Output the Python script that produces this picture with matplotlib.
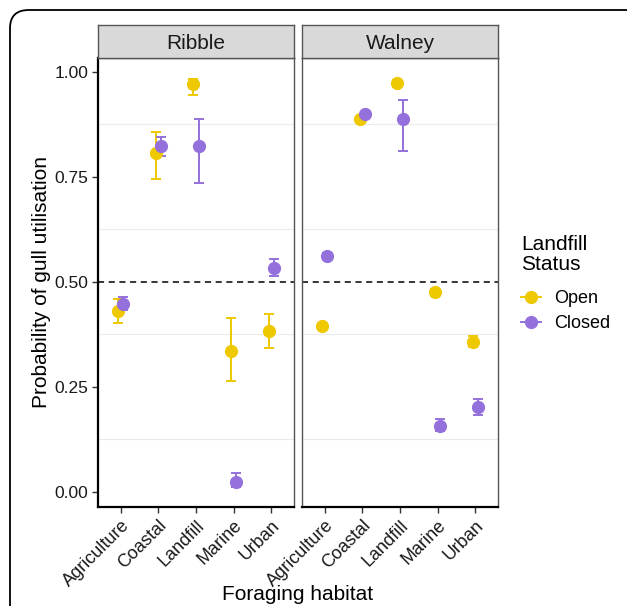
import matplotlib
matplotlib.use("Agg")
import matplotlib.pyplot as plt
from matplotlib.patches import FancyBboxPatch
from matplotlib.lines import Line2D

plt.rcParams['font.family'] = ['Liberation Sans', 'DejaVu Sans']

# data
habitats = ["Agriculture", "Coastal", "Landfill", "Marine", "Urban"]
sites = ["Ribble", "Walney"]

ribble_open = [0.431, 0.806, 0.971, 0.336, 0.382]
ribble_open_lo = [0.403, 0.744, 0.946, 0.265, 0.343]
ribble_open_hi = [0.460, 0.856, 0.984, 0.414, 0.423]
ribble_closed = [0.448, 0.824, 0.824, 0.024, 0.534]
ribble_closed_lo = [0.433, 0.800, 0.736, 0.012, 0.514]
ribble_closed_hi = [0.465, 0.846, 0.887, 0.044, 0.554]

walney_open = [0.395, 0.887, 0.974, 0.477, 0.358]
walney_open_lo = [0.390, 0.882, 0.968, 0.470, 0.345]
walney_open_hi = [0.400, 0.892, 0.980, 0.484, 0.371]
walney_closed = [0.561, 0.900, 0.887, 0.158, 0.201]
walney_closed_lo = [0.554, 0.895, 0.811, 0.144, 0.182]
walney_closed_hi = [0.568, 0.905, 0.934, 0.173, 0.221]

col_open = "#EEC900"
col_closed = "#9370DB"

W, H = 627, 606
fig = plt.figure(figsize=(W / 100, H / 100), dpi=100)

# rounded frame round the figure (cut at the bottom)
frame = FancyBboxPatch((10 / W, -0.1), (W + 20) / W - 10 / W, (H - 10) / H + 0.1,
                       boxstyle="round,pad=0,rounding_size=0.03",
                       transform=fig.transFigure, fill=False,
                       edgecolor="black", linewidth=1.3)
fig.patches.append(frame)


def px_box(x0, y0, x1, y1):
    return [x0 / W, (H - y1) / H, (x1 - x0) / W, (y1 - y0) / H]


panels = [
    ("Ribble", 98, ribble_open, ribble_open_lo, ribble_open_hi,
     ribble_closed, ribble_closed_lo, ribble_closed_hi),
    ("Walney", 302, walney_open, walney_open_lo, walney_open_hi,
     walney_closed, walney_closed_lo, walney_closed_hi),
]

dodge = 0.07
xs = list(range(1, len(habitats) + 1))

for i, (name, x0, o, olo, ohi, c, clo, chi) in enumerate(panels):
    ax = fig.add_axes(px_box(x0, 58, x0 + 196, 507))
    ax.set_xlim(0.4, 5.6)
    ax.set_ylim(-0.036, 1.033)

    for g in [0.125, 0.375, 0.625, 0.875]:
        ax.axhline(g, color="#EBEBEB", lw=0.8, zorder=0)
    ax.axhline(0.5, color="black", lw=1.1, ls=(0, (4, 3)), zorder=1)

    ax.errorbar([x - dodge for x in xs], o,
                yerr=[[v - l for v, l in zip(o, olo)], [h - v for v, h in zip(o, ohi)]],
                fmt="o", color=col_open, ms=8.5, elinewidth=1.4, capsize=3.5,
                capthick=1.4, zorder=3)
    ax.errorbar([x + dodge for x in xs], c,
                yerr=[[v - l for v, l in zip(c, clo)], [h - v for v, h in zip(c, chi)]],
                fmt="o", color=col_closed, ms=8.5, elinewidth=1.4, capsize=3.5,
                capthick=1.4, zorder=3)

    ax.set_xticks(xs)
    ax.set_xticklabels(habitats, rotation=45, ha="right", va="top",
                       rotation_mode="anchor", fontsize=13, color="#1a1a1a")
    ax.set_yticks([0, 0.25, 0.5, 0.75, 1.0])
    if i == 0:
        ax.set_yticklabels(["0.00", "0.25", "0.50", "0.75", "1.00"],
                           fontsize=12.5, color="#1a1a1a")
        ax.spines["left"].set_color("black")
        ax.spines["left"].set_linewidth(1.6)
    else:
        ax.tick_params(axis="y", left=False, labelleft=False)
        ax.spines["left"].set_color("#555555")
        ax.spines["left"].set_linewidth(1.0)
    ax.spines["bottom"].set_color("black")
    ax.spines["bottom"].set_linewidth(1.6)
    for s in ["top", "right"]:
        ax.spines[s].set_color("#555555")
        ax.spines[s].set_linewidth(1.0)
    ax.tick_params(axis="both", length=4, width=1, color="#333333", pad=3)

    # facet strip
    sax = fig.add_axes(px_box(x0, 25, x0 + 196, 58))
    sax.set_xticks([])
    sax.set_yticks([])
    sax.set_facecolor("#D9D9D9")
    for s in sax.spines.values():
        s.set_color("#555555")
        s.set_linewidth(1.0)
    sax.text(0.5, 0.45, name, ha="center", va="center", fontsize=15,
             color="#1a1a1a", transform=sax.transAxes)

fig.text(42 / W, 1 - 282 / H, "Probability of gull utilisation", rotation=90,
         ha="center", va="center", fontsize=15)
fig.text(298 / W, 1 - 595 / H, "Foraging habitat", ha="center", va="center",
         fontsize=15)

# legend title drawn by hand so the gap to the keys matches
fig.text(521 / W, 1 - 235 / H, "Landfill\nStatus", ha="left", va="top",
         fontsize=15, linespacing=1.05)
handles = [
    Line2D([], [], color=col_open, marker="o", ms=8.5, lw=1.4, label="Open"),
    Line2D([], [], color=col_closed, marker="o", ms=8.5, lw=1.4, label="Closed"),
]
leg = fig.legend(handles=handles, loc="upper left",
                 bbox_to_anchor=(521 / W, 1 - 290 / H), frameon=False,
                 borderpad=0, borderaxespad=0,
                 fontsize=13, handlelength=1.1,
                 handletextpad=0.75, labelspacing=0.45)

fig.savefig("out.png", dpi=100)
